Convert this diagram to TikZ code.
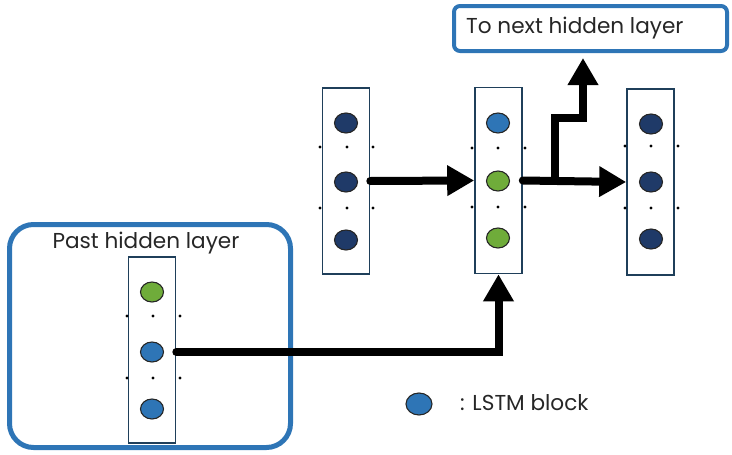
\documentclass[tikz,border=0pt]{standalone}
\usepackage{fontspec}
\setmainfont{Poppins}
\usetikzlibrary{shapes.geometric,arrows.meta}
\definecolor{navy}{HTML}{1F3A68}
\definecolor{lblue}{HTML}{2E75B6}
\definecolor{lgreen}{HTML}{6FAC3A}
\definecolor{frame}{HTML}{2E75B6}
\definecolor{colline}{HTML}{1F3F5A}
\tikzset{
  cell/.style={ellipse, draw=black!85, line width=1.1pt, minimum width=23pt, minimum height=20pt, inner sep=0pt},
  navycell/.style={cell, fill=navy},
  bluecell/.style={cell, fill=lblue},
  greencell/.style={cell, fill=lgreen},
  colbox/.style={rectangle, draw=colline, line width=1.6pt, minimum width=47pt, minimum height=186pt, inner sep=0pt},
  dot/.style={circle, fill=black, inner sep=0pt, minimum size=3.4pt},
  arr/.style={line width=8pt, line cap=round, -{Triangle[length=27pt,width=29pt]}},
  lbl/.style={font=\fontsize{21.6}{24}\selectfont, text=black!85, inner sep=0pt},
}
\begin{document}
\begin{tikzpicture}[x=1pt,y=-1pt]
\useasboundingbox (0,0) rectangle (732,455);
% past hidden layer frame
\node[draw=frame, line width=5pt, rounded corners=24pt, minimum width=281pt, minimum height=223pt, inner sep=0pt] (pastframe) at (150,336) {};
\node[lbl] (pastlbl) at (146,243) {Past hidden layer};
% top box
\node[draw=frame, line width=4pt, rounded corners=6pt, minimum width=273pt, minimum height=45pt, inner sep=0pt] (nextbox) at (590.5,28.5) {};
\node[lbl, anchor=west] (nextlbl) at (466,28) {To next hidden layer};
% columns
\node[colbox] (col1) at (346,181) {};
\node[colbox] (col2) at (498.5,180.5) {};
\node[colbox] (col3) at (650.5,182) {};
\node[colbox] (pcol) at (152,350) {};
% column 1 cells
\node[navycell] (c11) at (346,123) {};
\node[navycell] (c12) at (346,182) {};
\node[navycell] (c13) at (346,240) {};
% column 2 cells
\node[bluecell] (c21) at (498,123) {};
\node[greencell] (c22) at (498,181) {};
\node[greencell] (c23) at (498,238) {};
% column 3 cells
\node[navycell] (c31) at (651,124) {};
\node[navycell] (c32) at (651,182) {};
\node[navycell] (c33) at (651,239) {};
% past cells
\node[greencell] (p1) at (152,292) {};
\node[bluecell] (p2) at (152,352) {};
\node[bluecell] (p3) at (152,409) {};
% dots
\foreach \x/\y [count=\i] in {320/147,347/147,373/147,320/208,347/208,373/208,
  472/148,498/148,525/148,472/207,498/207,525/207,
  625/146,651/146,678/146,625/208,651/208,678/208,
  127/316,153/316,180/316,127/378,153/378,180/378}
  \node[dot] (d\i) at (\x,\y) {};
% legend
\node[bluecell, minimum width=26pt, minimum height=22pt] (legcell) at (419,404) {};
\node[lbl, anchor=west] (leglbl) at (460,403) {: LSTM block};
% connectors
\coordinate (br) at (555,181);
\coordinate (bend) at (583,118);
\draw[arr] (col1.east) -- (col2.west);
\draw[arr] (col2.east) -- (col3.west);
\draw[line width=8pt, line join=miter, -{Triangle[length=27pt,width=29pt]}, shorten >=5pt] (br) |- (bend) -- (bend |- nextbox.south);
\draw[arr, line join=miter] (pcol.east |- p2) -| (col2.south);
\end{tikzpicture}
\end{document}
